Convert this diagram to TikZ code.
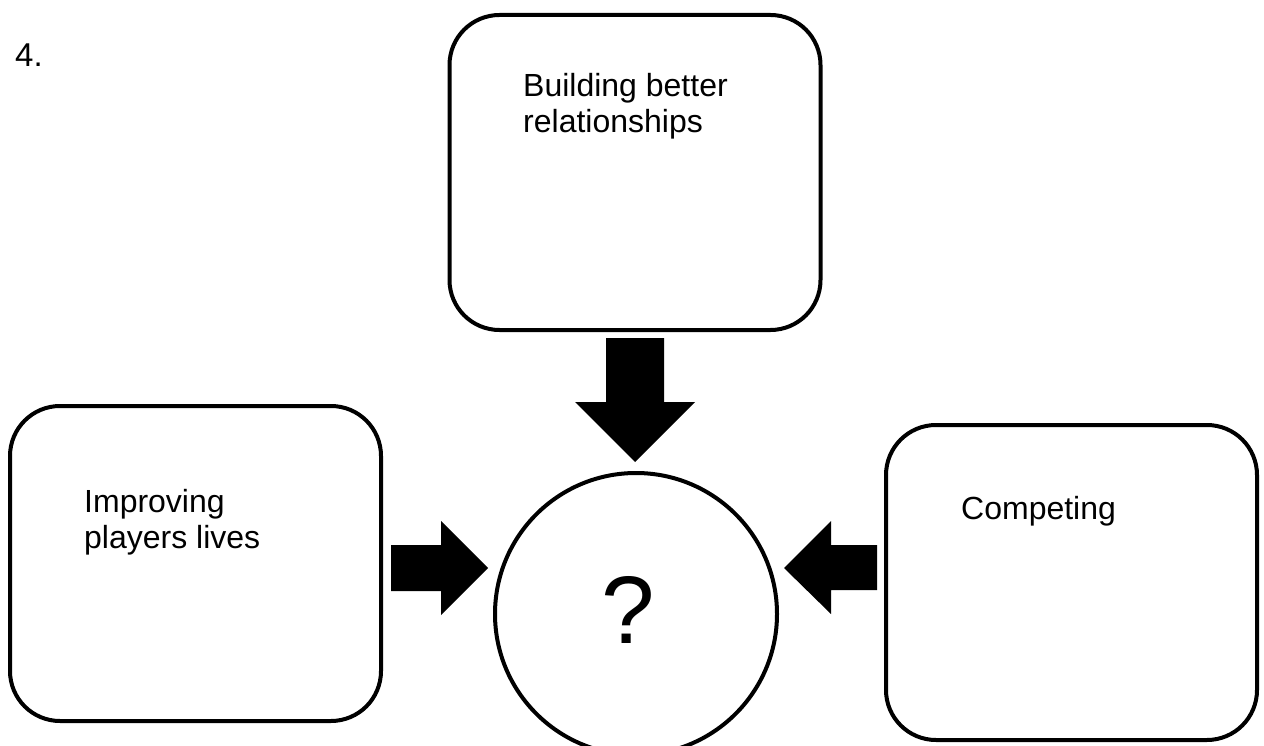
\documentclass[tikz,border=0pt]{standalone}
\usepackage{fontspec}
\setmainfont{Liberation Sans}
\tikzset{
  box/.style={draw=black, line width=4pt, rounded corners=50pt, minimum width=371pt, minimum height=315pt, inner sep=0pt},
  lbl/.style={anchor=base west, inner sep=0pt, align=left, font=\fontsize{32}{36}\selectfont},
  blockarrow/.style={fill=black},
  hub/.style={draw=black, line width=4pt, circle, minimum size=282pt, inner sep=0pt, font=\fontsize{96}{100}\selectfont}
}
\begin{document}
\begin{tikzpicture}[x=1pt,y=-1pt]
\useasboundingbox (0,0) rectangle (1264,746);
\node[anchor=base west, inner sep=0pt, font=\fontsize{33}{38}\selectfont] (num) at (15,67) {4.};
\node[box] (top) at (635,172.5) {};
\node[box] (left) at (195.5,563.5) {};
\node[box] (right) at (1071.5,582.5) {};
\node[hub] (q) at (636,614) {};
\node[anchor=base, inner sep=0pt, font=\fontsize{96}{100}\selectfont] (qm) at (628,643) {?};
% multi-line nodes: base anchor is on the last line
\node[lbl] (toptext) at (523,133) {Building better\\relationships};
\node[lbl] (lefttext) at (84,548) {Improving\\players lives};
\node[lbl] (righttext) at (961,519) {Competing};
% down arrow
\fill[blockarrow] (606,338) -- (664,338) -- (664,402) -- (695,402) -- (635,462) -- (575,402) -- (606,402) -- cycle;
% right-pointing arrow
\fill[blockarrow] (391,545) -- (441,545) -- (441,521) -- (488,568) -- (441,615) -- (441,591) -- (391,591) -- cycle;
% left-pointing arrow
\fill[blockarrow] (877,545) -- (831,545) -- (831,521) -- (784,568) -- (831,614) -- (831,590) -- (877,590) -- cycle;
\end{tikzpicture}
\end{document}
